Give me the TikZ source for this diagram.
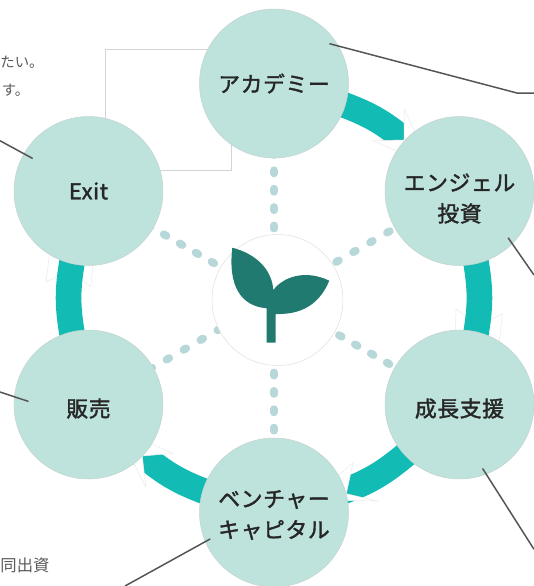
\documentclass[tikz,border=0pt]{standalone}
\usepackage{fontspec}
\usetikzlibrary{backgrounds}
\setmainfont{Noto Sans CJK JP}
\newfontfamily\stagefont[FakeBold=1.7, LetterSpace=3]{Noto Sans CJK JP}
\definecolor{stagegreen}{HTML}{BEE2DC}
\definecolor{stageedge}{HTML}{C4D4D0}
\definecolor{spokeblue}{HTML}{B7D7D9}
\definecolor{ringteal}{HTML}{12BBB3}
\definecolor{sproutgreen}{HTML}{217A70}
\definecolor{leadergray}{HTML}{555555}

\begin{document}
\begin{tikzpicture}[x=0.02cm, y=0.02cm,
		stage/.style={circle, fill=stagegreen, draw=stageedge, line width=0.3pt, minimum size=2.98cm, align=center, text=black!85, font=\stagefont\fontsize{12.4}{17.6}\selectfont},
		stagetext/.style={align=center, text=black!85, font=\stagefont\fontsize{12.4}{17.6}\selectfont},
		hub/.style={circle, fill=white, draw=black!12, line width=0.3pt, minimum size=2.62cm},
		spoke/.style={draw=spokeblue, line width=4.5pt, line cap=round, dash pattern=on 1.7pt off 8.76pt},
		ringarrow/.style={draw=ringteal, line width=14.6pt, shorten <=-4pt, shorten >=-4pt},
		ringtip/.style={fill=white, draw=black!8, line width=0.3pt},
		leader/.style={draw=leadergray, line width=0.85pt},
		aside/.style={text=black!65}]
		\tikzstyle{every node}+=[inner sep=0pt]
		\useasboundingbox (0,0) rectangle (534,-586);

		\node [stage] (academy) at (274,-83.5) {アカデミー};
		\node [stage] (angel) at (459.5,-191) {};
		\node [stage] (growth) at (459.5,-404.5) {};
		\node [stage] (venture) at (274,-512.5) {};
		\node [stage] (sales) at (88.5,-404.5) {};
		\node [stage] (exit) at (88.5,-191) {Exit};
		\node [hub] (center) at (277.5,-300) {};
		\node [stagetext] (angeltext) at (459.5,-198.5) {エンジェル\\投資};
		\node [stagetext] (growthtext) at (459.5,-408.5) {成長支援};
		\node [stagetext] (venturetext) at (274,-515) {ベンチャー\\キャピタル};
		\node [stagetext] (salestext) at (88.5,-408.5) {販売};

		\begin{pgfonlayer}{background}
		\draw [black!17, line width=0.4pt] (105.7,-49.3) rectangle (231.3,-170);
		\draw [spoke, dash phase=2.86pt] (academy.center) -- (venture.center);
		\draw [spoke, dash phase=2.86pt] (exit.center) -- (growth.center);
		\draw [spoke, dash pattern=on 1.7pt off 9.44pt, dash phase=9.84pt] (angel.center) -- (sales.center);
		\draw [ringtip] (502.3,-314) -- (479,-325) -- (456,-309) -- (455,-345) -- (499,-345) -- cycle;
		\draw [ringtip] (46,-282.3) -- (68,-270) -- (90.7,-286.7) -- (94,-255) -- (50,-250) -- cycle;
		\draw [ringarrow] (academy.-17) to [out=-20, in=140] (angel.137);
		\draw [ringarrow] (angel.-77) to [out=-80, in=80] (growth.77);
		\draw [ringarrow] (growth.-137) to [out=-140, in=20] (venture.17);
		\draw [ringarrow] (venture.163) to [out=160, in=-40] (sales.-43);
		\draw [ringarrow] (sales.103) to [out=100, in=-100] (exit.-103);
		\draw [ringtip] (404.3,-109) -- (404,-140) -- (373,-140.7) -- (431.3,-166.2) -- cycle;
		\draw [ringtip] (377,-501) -- (346.3,-493.7) -- (353,-462.7) -- (310,-500) -- cycle;
		\draw [ringtip] (173.3,-453.3) -- (142.3,-456) -- (145.7,-487) -- (117.3,-429.8) -- cycle;
		\end{pgfonlayer}

		\fill [sproutgreen] (232.3,-247.7) .. controls (256.7,-254) and (272,-270) .. (273.3,-290) .. controls (283,-277) and (305,-269) .. (329.3,-280.7) .. controls (322,-298) and (308,-315) .. (275.7,-314) -- (275.7,-342.7) -- (266.7,-342.7) -- (266.7,-308.3) .. controls (240,-306) and (228,-285) .. (232.3,-247.7) -- cycle;

		\coordinate (academybend) at (517,-93);
		\coordinate (academyend) at (534,-93);
		\coordinate (angelend) at (534,-275);
		\coordinate (growthend) at (534,-549.3);
		\coordinate (ventureend) at (125,-586);
		\coordinate (exitend) at (0,-140.7);
		\coordinate (salesend) at (0,-392);
		\draw [leader, shorten <=-5.5pt] (academy.30) -- (academybend) -- (academyend);
		\draw [leader, shorten <=-4.2pt] (angel.-45.4) -- (angelend);
		\draw [leader, shorten <=-3.9pt] (growth.-69.9) -- (growthend);
		\draw [leader, shorten <=-3.3pt] (venture.203.4) -- (ventureend);
		\draw [leader, shorten <=-5.8pt] (exit.150.2) -- (exitend);
		\draw [leader, shorten <=-8.6pt] (sales.174.8) -- (salesend);

		\node [aside, anchor=east, font=\fontsize{8.2}{10}\selectfont] (asidefirst) at (44,-62) {たい。};
		\node [aside, anchor=east, font=\fontsize{8.2}{10}\selectfont] (asidesecond) at (29.5,-90) {す。};
		\node [aside, anchor=east, font=\fontsize{9.3}{11}\selectfont] (asidethird) at (49.8,-565) {同出資};
	\end{tikzpicture}
\end{document}
